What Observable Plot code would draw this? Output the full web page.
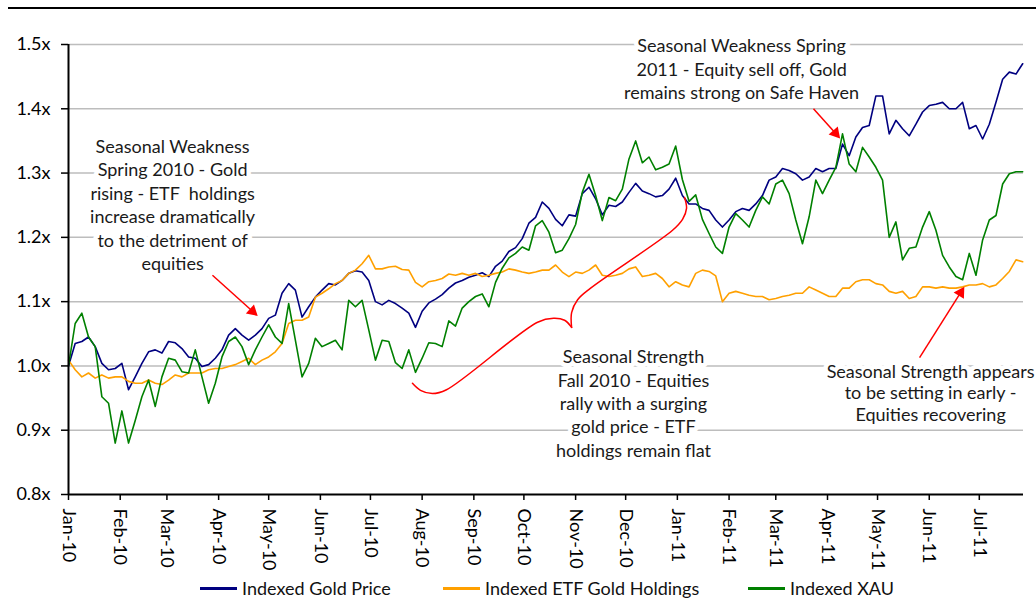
<!DOCTYPE html>
<html>
<head>
<meta charset="utf-8">
<script src="https://cdn.jsdelivr.net/npm/d3@7"></script>
<script src="https://cdn.jsdelivr.net/npm/@observablehq/plot@0.6"></script>
<style>
  body { margin: 0; background: #fff; font-family: Lato, "Open Sans", sans-serif; }
  #wrap { position: relative; width: 1036px; height: 600px; overflow: hidden; }
  #topline { position: absolute; top: 7px; left: 8px; width: 1028px; height: 2px; background: #000; }
  #chart { position: absolute; top: 0; left: 0; }
  .leg { position: absolute; top: 577px; height: 22px; display: flex; align-items: center; font-size: 18px; color: #111; }
  .leg span.sw { display: inline-block; width: 37px; height: 3px; margin-right: 5px; }
</style>
</head>
<body>
<div id="wrap">
  <div id="topline"></div>
  <div id="chart"></div>
</div>
<script>
// ---- data (sampled every 4 days from 1 Jan 2010) ----
const startDate = "2010-01-01";
const dayStep = 4;
const seriesNames = ["Indexed Gold Price", "Indexed ETF Gold Holdings", "Indexed XAU"];
const seriesColors = ["#000080", "#ffa000", "#008000"];

const gold = [1.000,1.035,1.038,1.045,1.030,1.004,0.994,0.996,1.004,0.963,0.983,1.004,1.022,1.025,1.020,1.038,1.036,1.027,1.014,1.012,
0.999,1.002,1.012,1.025,1.048,1.058,1.048,1.040,1.048,1.058,1.074,1.079,1.113,1.128,1.118,1.076,1.092,1.107,1.118,1.128,
1.126,1.133,1.144,1.148,1.146,1.133,1.100,1.095,1.102,1.097,1.090,1.082,1.060,1.085,1.098,1.104,1.111,1.121,1.129,1.133,
1.138,1.141,1.145,1.139,1.155,1.163,1.178,1.184,1.198,1.222,1.231,1.255,1.245,1.228,1.218,1.235,1.233,1.268,1.278,1.260,
1.235,1.250,1.248,1.255,1.270,1.284,1.272,1.268,1.263,1.265,1.275,1.292,1.265,1.252,1.252,1.245,1.242,1.227,1.216,1.227,
1.240,1.245,1.242,1.252,1.265,1.289,1.294,1.307,1.304,1.299,1.289,1.294,1.307,1.302,1.307,1.307,1.345,1.327,1.356,1.371,
1.374,1.420,1.420,1.361,1.382,1.369,1.358,1.376,1.395,1.405,1.407,1.410,1.400,1.400,1.410,1.369,1.374,1.353,1.376,1.410,
1.446,1.457,1.454,1.470];

const etf = [1.009,0.994,0.983,0.989,0.981,0.986,0.981,0.983,0.983,0.976,0.973,0.973,0.978,0.973,0.971,0.978,0.986,0.983,0.989,0.989,
0.989,0.994,0.996,0.996,0.999,1.002,1.007,1.012,1.002,1.009,1.014,1.022,1.035,1.066,1.071,1.071,1.076,1.107,1.113,1.120,
1.128,1.133,1.144,1.149,1.159,1.172,1.151,1.151,1.154,1.155,1.150,1.149,1.130,1.123,1.131,1.133,1.136,1.143,1.141,1.144,
1.141,1.144,1.139,1.141,1.144,1.146,1.151,1.149,1.146,1.144,1.146,1.149,1.149,1.157,1.146,1.139,1.146,1.144,1.149,1.157,
1.141,1.139,1.141,1.144,1.151,1.154,1.139,1.141,1.144,1.136,1.123,1.131,1.126,1.123,1.144,1.149,1.147,1.140,1.100,1.113,
1.116,1.113,1.110,1.108,1.108,1.103,1.105,1.108,1.110,1.113,1.113,1.123,1.118,1.113,1.108,1.108,1.121,1.121,1.131,1.134,
1.134,1.128,1.126,1.116,1.113,1.116,1.105,1.108,1.123,1.123,1.121,1.123,1.121,1.121,1.123,1.126,1.126,1.128,1.123,1.126,
1.136,1.147,1.165,1.162];

const xau = [1.000,1.066,1.082,1.045,1.030,0.952,0.942,0.880,0.930,0.880,0.915,0.952,0.978,0.937,0.983,1.012,1.009,0.991,0.989,1.025,
0.983,0.942,0.973,1.014,1.038,1.045,1.030,1.002,1.025,1.045,1.064,1.045,1.035,1.097,1.040,0.983,1.004,1.043,1.030,1.035,
1.040,1.025,1.102,1.092,1.102,1.056,1.009,1.040,1.038,1.005,0.996,1.025,0.990,1.012,1.036,1.035,1.030,1.070,1.062,1.090,
1.100,1.108,1.112,1.092,1.130,1.152,1.168,1.175,1.185,1.180,1.218,1.226,1.208,1.176,1.180,1.198,1.220,1.270,1.298,1.265,
1.226,1.262,1.257,1.275,1.322,1.350,1.316,1.325,1.305,1.309,1.314,1.342,1.290,1.256,1.266,1.228,1.206,1.185,1.175,1.216,
1.237,1.227,1.216,1.242,1.263,1.252,1.283,1.289,1.268,1.227,1.190,1.232,1.289,1.268,1.289,1.309,1.361,1.314,1.302,1.340,
1.325,1.309,1.289,1.200,1.224,1.165,1.183,1.185,1.216,1.240,1.211,1.172,1.154,1.139,1.134,1.175,1.141,1.196,1.227,1.234,
1.283,1.299,1.302,1.302];

const yTicks = [0.8, 0.9, 1.0, 1.1, 1.2, 1.3, 1.4, 1.5];
const xEndDay = 572.5;

// annotations: position in (days since start, value)
const annDay = [62.4, 403.5, 338.7, 516.8];
const annValue = [1.252, 1.463, 0.943, 0.959];
const annText = [
  "Seasonal Weakness\nSpring 2010 - Gold\nrising - ETF  holdings\nincrease dramatically\nto the detriment of\nequities",
  "Seasonal Weakness Spring\n2011 - Equity sell off, Gold\nremains strong on Safe Haven",
  "Seasonal Strength\nFall 2010 - Equities\nrally with a surging\ngold price - ETF\nholdings remain flat",
  "Seasonal Strength appears\nto be setting in early -\nEquities recovering"
];
const arrowDay1 = [86.3, 446.6, 510.2];
const arrowVal1 = [1.141, 1.400, 1.013];
const arrowDay2 = [110.3, 459.8, 534.8];
const arrowVal2 = [1.085, 1.362, 1.114];
const arrowAngle = [132, 139, 32];
const braceLowerDay = [206.2, 211.0, 218.2, 226.6, 281.2, 290.8, 297.4, 301.6];
const braceLowerVal = [0.973, 0.962, 0.957, 0.963, 1.068, 1.074, 1.071, 1.060];
const braceUpperDay = [301.6, 301.6, 305.2, 313.0, 362.1, 368.1, 370.5, 369.3];
const braceUpperVal = [1.060, 1.083, 1.103, 1.121, 1.211, 1.228, 1.245, 1.262];

// ---- build ----
const t0 = Date.parse(startDate + "T00:00:00Z");
const day = n => new Date(t0 + n * 864e5);

const rows = [];
[gold, etf, xau].forEach((arr, s) => arr.forEach((v, i) => rows.push({date: day(i * dayStep), value: v, series: seriesNames[s]})));

const monthTicks = d3.utcMonth.range(day(0), day(xEndDay));
const anns = annText.map((t, i) => ({x: day(annDay[i]), y: annValue[i], text: t, i}));
const arrows = arrowAngle.map((a, i) => ({x1: day(arrowDay1[i]), y1: arrowVal1[i], x2: day(arrowDay2[i]), y2: arrowVal2[i], rot: a}));
const brace = [
  ...braceLowerDay.map((d, i) => ({x: day(d), y: braceLowerVal[i], arm: "lower"})),
  ...braceUpperDay.map((d, i) => ({x: day(d), y: braceUpperVal[i], arm: "upper"}))
];

const textOpts = {x: "x", y: "y", text: "text", textAnchor: "middle", lineAnchor: "middle",
  fill: "#1a1a1a", stroke: "white", strokeWidth: 9, fontSize: 18};

const chart = Plot.plot({
  width: 1036,
  height: 575,
  marginLeft: 68,
  marginRight: 13,
  marginTop: 44,
  marginBottom: 81,
  style: {fontFamily: "Lato, 'Open Sans', sans-serif", fontSize: "18px", color: "#000", background: "transparent"},
  x: {type: "utc", domain: [day(0), day(xEndDay)]},
  y: {domain: [0.8, 1.5]},
  color: {domain: seriesNames, range: seriesColors},
  marks: [
    Plot.ruleY(yTicks.filter(t => t > 0.8), {stroke: "#bdbdbd", strokeWidth: 1.5}),
    Plot.line(rows, {x: "date", y: "value", z: "series", stroke: "series", strokeWidth: 1.6}),
    Plot.ruleX([day(0)], {stroke: "#000", strokeWidth: 2}),
    Plot.ruleY([0.8], {stroke: "#000", strokeWidth: 2}),
    Plot.axisY({ticks: yTicks, tickFormat: d => d.toFixed(1) + "x", tickSize: 7, tickPadding: 11, strokeWidth: 1.5, fontSize: 18}),
    Plot.axisX({ticks: monthTicks, tickFormat: d3.utcFormat("%b-%y"), tickRotate: 90, tickSize: 6, tickPadding: 8, strokeWidth: 1.5, fontSize: 18}),
    Plot.text(anns.filter(d => d.i < 3), {...textOpts, lineHeight: 1.3}),
    Plot.text(anns.filter(d => d.i === 3), {...textOpts, lineHeight: 1.2}),
    Plot.line(brace, {x: "x", y: "y", z: "arm", stroke: "#ff0000", strokeWidth: 1.5, curve: "catmull-rom"}),
    Plot.link(arrows, {x1: "x1", y1: "y1", x2: "x2", y2: "y2", stroke: "#ff0000", strokeWidth: 1.5}),
    Plot.dot(arrows, {x: "x2", y: "y2", symbol: "triangle", r: 4.5, fill: "#ff0000", rotate: "rot"})
  ]
});
document.getElementById("chart").appendChild(chart);

// legend
const legendLeft = [200, 443, 748];
const wrap = document.getElementById("wrap");
seriesNames.forEach((name, i) => {
  const el = document.createElement("div");
  el.className = "leg";
  el.style.left = legendLeft[i] + "px";
  el.innerHTML = `<span class="sw" style="background:${seriesColors[i]}"></span><span>${name}</span>`;
  wrap.appendChild(el);
});
</script>
</body>
</html>
